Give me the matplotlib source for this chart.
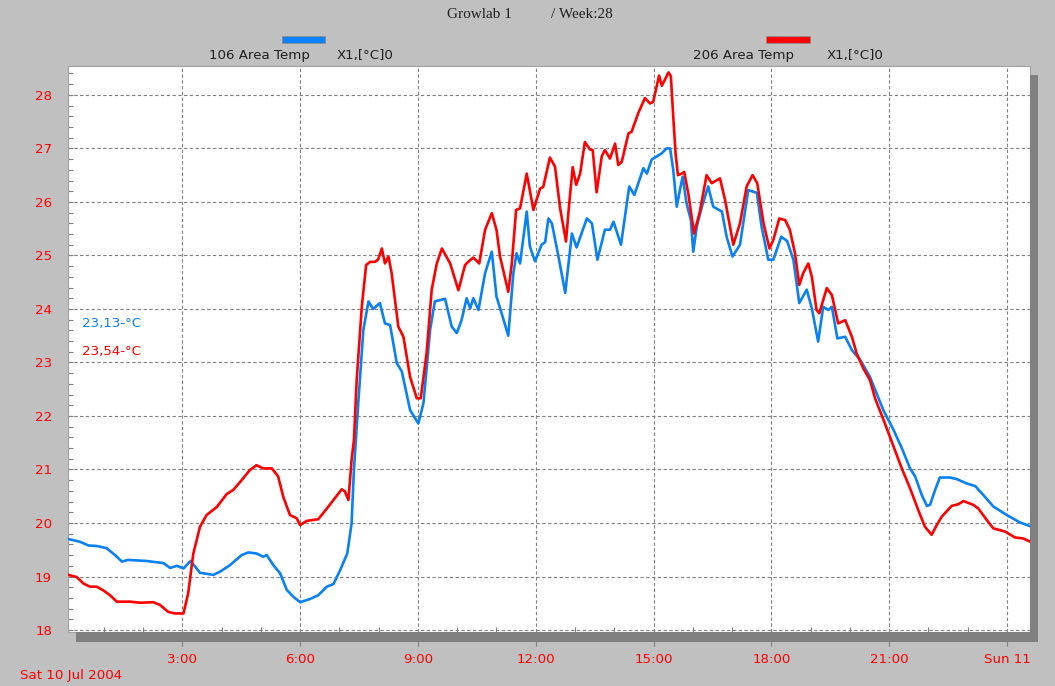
import matplotlib
matplotlib.use("Agg")
import matplotlib.pyplot as plt
from matplotlib.patches import Rectangle
from matplotlib.ticker import FixedLocator, MultipleLocator

# Sensor 106 (hours since midnight, °C)
hours_106 = [0.10, 0.39, 0.61, 0.82, 1.07, 1.29, 1.46, 1.62, 2.09, 2.52, 2.69, 2.86,
             3.03, 3.21, 3.45, 3.79, 3.96, 4.21, 4.51, 4.68, 4.89, 5.06, 5.15, 5.32,
             5.49, 5.66, 5.83, 6.00, 6.25, 6.46, 6.68, 6.85, 7.02, 7.20, 7.31, 7.37,
             7.48, 7.61, 7.74, 7.86, 8.03, 8.16, 8.29, 8.46, 8.59, 8.80, 9.01, 9.14,
             9.31, 9.43, 9.69, 9.86, 9.99, 10.11, 10.24, 10.33, 10.41, 10.54, 10.71,
             10.88, 11.00, 11.13, 11.30, 11.43, 11.51, 11.60, 11.77, 11.85, 11.98,
             12.15, 12.24, 12.32, 12.41, 12.57, 12.75, 12.92, 13.04, 13.30, 13.43,
             13.57, 13.76, 13.89, 13.98, 14.17, 14.38, 14.51, 14.74, 14.83, 14.95,
             15.08, 15.21, 15.33, 15.42, 15.50, 15.59, 15.67, 15.74, 15.84, 15.95,
             16.01, 16.10, 16.23, 16.39, 16.52, 16.74, 16.86, 17.01, 17.20, 17.41,
             17.63, 17.75, 17.92, 18.05, 18.25, 18.40, 18.56, 18.71, 18.90, 19.03,
             19.19, 19.32, 19.45, 19.54, 19.68, 19.88, 20.05, 20.26, 20.51, 20.68,
             20.85, 21.11, 21.32, 21.53, 21.66, 21.83, 21.96, 22.04, 22.17, 22.29,
             22.55, 22.72, 22.97, 23.19, 23.40, 23.65, 23.99, 24.33, 24.59]
temp_106 = [19.70, 19.65, 19.58, 19.57, 19.53, 19.40, 19.28, 19.31, 19.29, 19.25, 19.16, 19.20,
            19.15, 19.29, 19.07, 19.03, 19.09, 19.21, 19.40, 19.45, 19.43, 19.37, 19.40, 19.21,
            19.06, 18.75, 18.62, 18.52, 18.58, 18.65, 18.81, 18.86, 19.12, 19.43, 19.99, 21.00,
            22.24, 23.61, 24.14, 24.00, 24.11, 23.73, 23.70, 22.99, 22.83, 22.11, 21.86, 22.24,
            23.61, 24.14, 24.19, 23.67, 23.55, 23.79, 24.20, 24.01, 24.20, 23.98, 24.67,
            25.07, 24.23, 23.92, 23.50, 24.67, 25.04, 24.85, 25.82, 25.17, 24.89,
            25.20, 25.25, 25.69, 25.60, 25.01, 24.30, 25.41, 25.15, 25.69, 25.60,
            24.92, 25.48, 25.48, 25.63, 25.20, 26.29, 26.13, 26.63, 26.53, 26.79,
            26.85, 26.91, 27.00, 27.00, 26.60, 25.91, 26.22, 26.47, 25.97, 25.66,
            25.07, 25.54, 25.91, 26.29, 25.91, 25.82, 25.35, 24.98, 25.20, 26.22,
            26.17, 25.54, 24.92, 24.92, 25.35, 25.27, 24.92, 24.11, 24.36, 24.01,
            23.39, 24.04, 23.98, 24.04, 23.45, 23.48, 23.23, 23.05, 22.73, 22.42,
            22.11, 21.74, 21.40, 21.02, 20.87, 20.52, 20.32, 20.34, 20.62, 20.85,
            20.85, 20.82, 20.74, 20.69, 20.52, 20.31, 20.15, 20.01, 19.94]

# Sensor 206 (hours since midnight, °C)
hours_206 = [0.10, 0.31, 0.48, 0.65, 0.82, 0.99, 1.16, 1.33, 1.67, 1.92, 2.26, 2.43,
             2.64, 2.81, 3.03, 3.15, 3.28, 3.45, 3.62, 3.88, 4.13, 4.30, 4.51, 4.72,
             4.89, 5.06, 5.28, 5.44, 5.57, 5.74, 5.91, 6.00, 6.17, 6.46, 6.68, 6.85,
             7.06, 7.14, 7.23, 7.31, 7.37, 7.44, 7.57, 7.68, 7.78, 7.91, 7.99, 8.08,
             8.16, 8.25, 8.33, 8.50, 8.63, 8.80, 8.97, 9.07, 9.22, 9.35, 9.48, 9.61,
             9.82, 10.03, 10.20, 10.28, 10.41, 10.56, 10.71, 10.88, 11.00, 11.09,
             11.30, 11.39, 11.50, 11.60, 11.77, 11.94, 12.11, 12.19, 12.36, 12.49,
             12.62, 12.77, 12.83, 12.94, 13.03, 13.13, 13.25, 13.38, 13.45, 13.55,
             13.68, 13.76, 13.89, 14.02, 14.10, 14.19, 14.36, 14.44, 14.61, 14.78,
             14.91, 14.99, 15.14, 15.21, 15.38, 15.44, 15.50, 15.56, 15.62, 15.72,
             15.78, 15.89, 16.03, 16.17, 16.35, 16.48, 16.69, 16.82, 17.03, 17.20,
             17.37, 17.52, 17.64, 17.80, 17.95, 18.05, 18.20, 18.35, 18.47, 18.60,
             18.71, 18.81, 18.94, 19.03, 19.15, 19.22, 19.41, 19.54, 19.70, 19.88,
             20.05, 20.17, 20.34, 20.51, 20.64, 20.89, 21.11, 21.32, 21.53, 21.74,
             21.91, 22.08, 22.21, 22.34, 22.59, 22.76, 22.89, 23.14, 23.27, 23.48,
             23.65, 23.95, 24.20, 24.42, 24.59]
temp_206 = [19.03, 18.99, 18.87, 18.81, 18.81, 18.74, 18.65, 18.53, 18.53, 18.51, 18.52, 18.47,
            18.34, 18.31, 18.31, 18.69, 19.43, 19.93, 20.15, 20.30, 20.54, 20.62, 20.80, 20.99,
            21.08, 21.02, 21.02, 20.87, 20.49, 20.15, 20.09, 19.96, 20.04, 20.07, 20.27, 20.43,
            20.63, 20.59, 20.43, 21.18, 21.55, 22.67, 24.04, 24.82, 24.88, 24.88, 24.93, 25.13,
            24.85, 24.98, 24.67, 23.67, 23.48, 22.73, 22.33, 22.33, 23.17, 24.36, 24.85, 25.13,
            24.85, 24.35, 24.82, 24.88, 24.96, 24.85, 25.48, 25.79, 25.48, 24.98,
            24.32, 24.85, 25.85, 25.88, 26.53, 25.85, 26.25, 26.28, 26.83, 26.66,
            25.88, 25.26, 25.79, 26.65, 26.32, 26.53, 27.12, 26.98, 26.97, 26.18,
            26.85, 26.97, 26.81, 27.09, 26.69, 26.75, 27.28, 27.31, 27.66, 27.94,
            27.84, 27.87, 28.36, 28.17, 28.42, 28.35, 27.60, 26.91, 26.50, 26.53,
            26.56, 26.13, 25.41, 25.79, 26.50, 26.35, 26.44, 26.04, 25.20, 25.60,
            26.29, 26.50, 26.35, 25.60, 25.13, 25.29, 25.69, 25.66, 25.48, 25.04,
            24.45, 24.67, 24.85, 24.60, 23.98, 23.92, 24.39, 24.26, 23.73, 23.79,
            23.48, 23.17, 22.89, 22.67, 22.33, 21.86, 21.43, 21.02, 20.65, 20.24,
            19.93, 19.78, 19.96, 20.12, 20.32, 20.35, 20.41, 20.34, 20.27, 20.06,
            19.90, 19.84, 19.73, 19.71, 19.65]

x_ticks = [3, 6, 9, 12, 15, 18, 21, 24]
x_labels = ["3:00", "6:00", "9:00", "12:00", "15:00", "18:00", "21:00", "Sun 11"]
y_ticks = list(range(18, 29))

BLUE = "#0a80f5"
RED = "#ff0000"
GRID = "#808080"
BG = "#c0c0c0"
SHADOW = "#808080"

W, H = 1055, 686
fig = plt.figure(figsize=(W / 100, H / 100), dpi=100, facecolor=BG)
plt.rcParams["font.family"] = ["DejaVu Sans"]


def fx(px):
    return px / W


def fy(py):
    return 1 - py / H


ax = fig.add_axes([fx(68), fy(632), fx(1030) - fx(68), fy(66) - fy(632)])
ax.set_facecolor("white")
ax.set_xlim(0.089, 24.585)
ax.set_ylim(17.963, 28.54)

ax.plot(hours_106, temp_106, color=BLUE, lw=1.9, solid_joinstyle="round", zorder=3)
ax.plot(hours_206, temp_206, color=RED, lw=1.9, solid_joinstyle="round", zorder=4)

# grid
dash = (0, (3.0, 2.2))
for t in x_ticks:
    ax.axvline(t, color=GRID, lw=0.8, linestyle=dash, zorder=1)
for t in y_ticks:
    ax.axhline(t, color=GRID, lw=0.8, linestyle=dash, zorder=1)

# x axis ticks
ax.xaxis.set_major_locator(FixedLocator(x_ticks))
ax.set_xticklabels(x_labels)
ax.xaxis.set_minor_locator(MultipleLocator(1))
ax.tick_params(axis="x", which="major", direction="out", length=10, width=0.8,
               color=GRID, pad=5, labelsize=9.6, labelcolor=RED)
ax.tick_params(axis="x", which="minor", direction="in", length=3.5, width=0.8, color=GRID)

# y axis ticks
ax.yaxis.set_major_locator(FixedLocator(y_ticks))
ax.yaxis.set_minor_locator(MultipleLocator(0.2))
ax.tick_params(axis="y", which="major", direction="in", length=3.5, width=0.8,
               color=GRID, pad=11.5, labelsize=9.6, labelcolor=RED)
ax.tick_params(axis="y", which="minor", direction="in", length=3.5, width=0.8, color=GRID)

for s in ax.spines.values():
    s.set_color("#a0a0a0")
    s.set_linewidth(0.8)

# drop shadow under and to the right of the plot
fig.patches.append(Rectangle((fx(76), fy(642)), fx(1038) - fx(76), fy(632) - fy(642),
                             transform=fig.transFigure, facecolor=SHADOW, edgecolor="none"))
fig.patches.append(Rectangle((fx(1030), fy(642)), fx(1038) - fx(1030), fy(75) - fy(642),
                             transform=fig.transFigure, facecolor=SHADOW, edgecolor="none"))

# title
fig.text(fx(447), fy(14), "Growlab 1", family="Liberation Serif", fontsize=11,
         ha="left", va="center", color="#202020")
fig.text(fx(551), fy(14), "/ Week:28", family="Liberation Serif", fontsize=11,
         ha="left", va="center", color="#202020")

# legend entries
for (x0, x1), colour, name, tx0, tx1 in [
    ((282, 325), BLUE, "106 Area Temp", 209, 337),
    ((766, 810), RED, "206 Area Temp", 693, 827),
]:
    fig.patches.append(Rectangle((fx(x0), fy(43)), fx(x1) - fx(x0), fy(36) - fy(43),
                                 transform=fig.transFigure, facecolor=colour,
                                 edgecolor="#909090", lw=0.6))
    fig.text(fx(tx0), fy(55), name, fontsize=9.6, ha="left", va="center", color="#202020")
    fig.text(fx(tx1), fy(55), "X1,[°C]0", fontsize=9.6, ha="left", va="center", color="#202020")

# current values
fig.text(fx(82), fy(323), "23,13-°C", fontsize=9.6, ha="left", va="center", color=BLUE)
fig.text(fx(82), fy(352), "23,54-°C", fontsize=9.6, ha="left", va="center", color=RED)

# date label
fig.text(fx(20), fy(675), "Sat 10 Jul 2004", fontsize=9.6, ha="left", va="center", color=RED)

fig.savefig("out.png", dpi=100, facecolor=BG)
